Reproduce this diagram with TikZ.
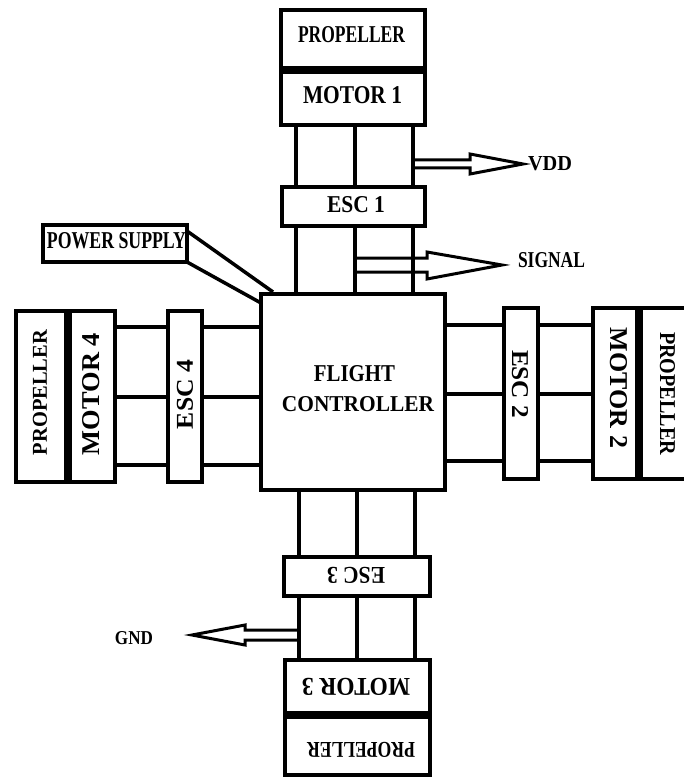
\documentclass[tikz,border=0pt]{standalone}
\usepackage{fontspec}
\setmainfont{Liberation Serif}
\usetikzlibrary{calc}
\tikzset{
  box/.style={draw=black, line width=4pt, rectangle, inner sep=0pt, outer sep=0pt},
  lbl/.style={inner sep=0pt, outer sep=0pt, text=black},
  wire/.style={draw=black, line width=4pt},
  blockarrow/.style={draw=black, line width=3pt, line join=miter},
}
\newcommand{\fitlbl}[3]{\resizebox{#1pt}{#2pt}{\bfseries #3}}
\begin{document}
\begin{tikzpicture}[x=1pt, y=-1pt]
\useasboundingbox (0,0) rectangle (683,778);
% ---- boxes ----
% top column
\node[box, minimum width=144pt, minimum height=58pt] (p1) at (353,39) {};
\node[box, minimum width=144pt, minimum height=53pt] (m1) at (353,98.5) {};
\node[box, minimum width=143pt, minimum height=39pt] (e1) at (353.5,206.5) {};
% flight controller
\node[box, minimum width=184pt, minimum height=196pt] (fc) at (353,392) {};
% bottom column
\node[box, minimum width=146pt, minimum height=39pt] (e3) at (357,576.5) {};
\node[box, minimum width=145pt, minimum height=53pt] (m3) at (357.5,686.5) {};
\node[box, minimum width=145pt, minimum height=58pt] (p3) at (357.5,746) {};
% left column
\node[box, minimum width=50pt, minimum height=171pt] (p4) at (41,396.5) {};
\node[box, minimum width=45pt, minimum height=171pt] (m4) at (92.5,396.5) {};
\node[box, minimum width=34pt, minimum height=171pt] (e4) at (185,396.5) {};
% right column
\node[box, minimum width=34pt, minimum height=171pt] (e2) at (521,393.5) {};
\node[box, minimum width=44pt, minimum height=171pt] (m2) at (615,393.5) {};
\node[box, minimum width=47pt, minimum height=171pt] (p2) at (664.5,393.5) {};
% power supply
\node[box, minimum width=144pt, minimum height=37pt] (ps) at (115,243.5) {};

% ---- labels ----
\node[lbl] (tp1) at (351.5,35) {\fitlbl{107}{16}{PROPELLER}};
\node[lbl] (tm1) at (352.5,95.5) {\fitlbl{99}{17}{MOTOR 1}};
\node[lbl] (te1) at (356,205) {\fitlbl{58}{16}{ESC 1}};
\node[lbl] (tps) at (116.5,241) {\fitlbl{139}{16}{POWER SUPPLY}};
\node[lbl] (tvdd) at (550,164) {\fitlbl{44}{14}{VDD}};
\node[lbl] (tsig) at (551.5,260.5) {\fitlbl{67}{15}{SIGNAL}};
\node[lbl] (tfc1) at (354.5,374) {\fitlbl{81}{16}{FLIGHT}};
\node[lbl] (tfc2) at (358,404.5) {\fitlbl{152}{15}{CONTROLLER}};
\node[lbl, rotate=90] (tp4) at (40,392.5) {\fitlbl{125}{14}{PROPELLER}};
\node[lbl, rotate=90] (tm4) at (91.5,394) {\fitlbl{122}{17}{MOTOR 4}};
\node[lbl, rotate=90] (te4) at (185,394.5) {\fitlbl{69}{16}{ESC 4}};
\node[lbl, rotate=-90] (te2) at (520,384) {\fitlbl{68}{16}{ESC 2}};
\node[lbl, rotate=-90] (tm2) at (618.5,388) {\fitlbl{120}{17}{MOTOR 2}};
\node[lbl, rotate=-90] (tp2) at (667.5,393.5) {\fitlbl{123}{15}{PROPELLER}};
\node[lbl, rotate=180] (te3) at (356,575) {\fitlbl{58}{16}{ESC 3}};
\node[lbl, rotate=180] (tm3) at (356,686.5) {\fitlbl{108}{17}{MOTOR 3}};
\node[lbl, rotate=180] (tp3) at (361,749.5) {\fitlbl{108}{15}{PROPELLER}};
\node[lbl] (tgnd) at (134,638.5) {\fitlbl{38}{13}{GND}};

% ---- wire positions ----
\coordinate (tA) at (296,0);
\coordinate (tB) at (355,0);
\coordinate (tC) at (413,0);
\coordinate (bA) at (299,0);
\coordinate (bB) at (357,0);
\coordinate (bC) at (415,0);
\coordinate (lA) at (0,327);
\coordinate (lB) at (0,397);
\coordinate (lC) at (0,465);
\coordinate (rA) at (0,325);
\coordinate (rB) at (0,394);
\coordinate (rC) at (0,461);

% top wires
\foreach \c in {tA,tB,tC}{
  \draw[wire] (m1.south -| \c) -- (e1.north -| \c);
  \draw[wire] (e1.south -| \c) -- (fc.north -| \c);
}
% bottom wires
\foreach \c in {bA,bB,bC}{
  \draw[wire] (fc.south -| \c) -- (e3.north -| \c);
  \draw[wire] (e3.south -| \c) -- (m3.north -| \c);
}
% left wires
\foreach \c in {lA,lB,lC}{
  \draw[wire] (m4.east |- \c) -- (e4.west |- \c);
  \draw[wire] (e4.east |- \c) -- (fc.west |- \c);
}
% right wires
\foreach \c in {rA,rB,rC}{
  \draw[wire] (fc.east |- \c) -- (e2.west |- \c);
  \draw[wire] (e2.east |- \c) -- (m2.west |- \c);
}

% power supply connector
\draw[wire, line width=3.5pt] ($(ps.north east)+(0,6)$) -- ($(fc.north west)+(12,-2)$);
\draw[wire, line width=3.5pt] (ps.south east) -- ($(fc.north west)+(0,9)$);

% ---- block arrows ----
\coordinate (vddS) at (tC |- 0,164);
\coordinate (sigS) at (tB |- 0,265);
\coordinate (gndS) at (bA |- 0,635);
\draw[blockarrow] ($(vddS)+(0,-4)$) -- ++(57,0) -- ++(0,-6) -- ++(53,10) -- ++(-53,10) -- ++(0,-6) -- ++(-57,0);
\draw[blockarrow] ($(sigS)+(0,-7)$) -- ++(72,0) -- ++(0,-6) -- ++(75,13) -- ++(-75,14) -- ++(0,-7) -- ++(-72,0);
\draw[blockarrow] ($(gndS)+(0,-5)$) -- ++(-54,0) -- ++(0,-5) -- ++(-53,10) -- ++(53,10) -- ++(0,-5) -- ++(54,0);
\end{tikzpicture}
\end{document}
